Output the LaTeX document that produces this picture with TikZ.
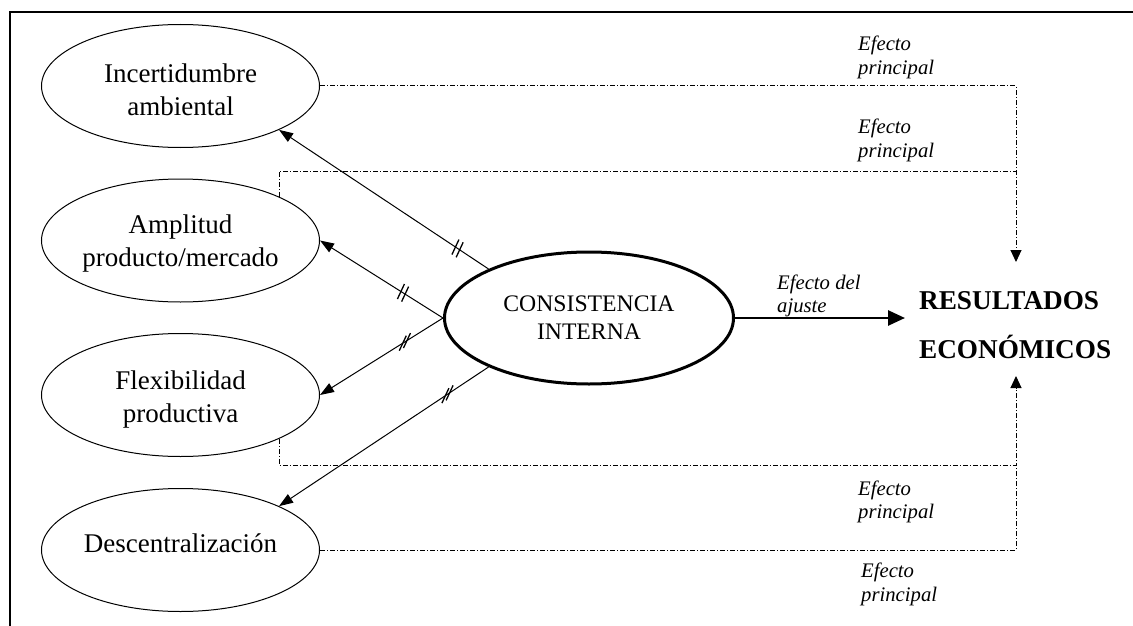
\documentclass[tikz,border=0pt]{standalone}
\usepackage{fontspec}
\setmainfont{Liberation Serif}
\usetikzlibrary{shapes.geometric,arrows.meta}
\begin{document}
\begin{tikzpicture}[x=1pt,y=-1pt,
  var/.style={ellipse,draw,line width=1pt,minimum width=278pt,minimum height=123pt,inner sep=0pt},
  core/.style={ellipse,draw,line width=3pt,minimum width=289pt,minimum height=132pt,inner sep=0pt,
    align=center,font=\fontsize{23.7}{28}\selectfont},
  vtext/.style={align=center,inner sep=0pt,font=\fontsize{27}{33}\selectfont},
  note/.style={align=left,inner sep=0pt,anchor=west,font=\fontsize{20.7}{23.5}\selectfont\itshape},
  result/.style={align=left,anchor=west,inner xsep=14pt,inner ysep=0pt,
    font=\fontsize{27.2}{49}\selectfont\bfseries},
  link/.style={line width=1pt,-{Triangle[length=14pt,width=10pt]}},
  fitarrow/.style={line width=2.7pt,-{Triangle[length=17pt,width=15pt]}},
  main/.style={line width=1pt,dash pattern=on 5pt off 2pt on 1pt off 2pt},
  mainarrow/.style={main,-{Triangle[length=12pt,width=11pt]}},
  tick/.style={line width=1.3pt},
]
\useasboundingbox (0,0) rectangle (1133,626);

% outer frame
\draw[line width=2pt] (1140,12.5) -- (9.5,12.5) -- (9.5,640);

% variables of the configuration
\node[var] (e1) at (180.5,86)  {};
\node[var] (e2) at (180.5,240.5) {};
\node[var] (e3) at (180.5,395) {};
\node[var] (e4) at (180.5,550) {};
\node[vtext] (t1) at (180.5,89.3)  {Incertidumbre\\ambiental};
\node[vtext] (t2) at (180.5,243.2) {Amplitud\\producto/mercado};
\node[vtext] (t3) at (180.5,399.5) {Flexibilidad\\productiva};
\node[vtext] (t4) at (180.5,543)   {Descentralización};

% internal consistency
\node[core] (ci) at (589,318) {CONSISTENCIA\\INTERNA};

% performance
\node[result] (res) at (905,325.6) {RESULTADOS\\ECONÓMICOS};
\coordinate (resTop) at (1016,262);
\coordinate (resBot) at (1016,376);
\coordinate (jTop) at (1016,171);
\coordinate (jBot) at (1016,465);

% fit effect
\draw[fitarrow] (ci.east) -- (ci.east -| res.west);
\node[note] (nfit) at (777,295.7) {Efecto del\\ajuste};

% consistency links with the variables
\draw[link] (ci.154) -- (e1.-24) coordinate[pos=0.138] (k1a) coordinate[pos=0.158] (k1b);
\draw[link] (ci.west) -- (e2.east) coordinate[pos=0.308] (k2a) coordinate[pos=0.342] (k2b);
\draw[link] (ci.west) -- (e3.east) coordinate[pos=0.293] (k3a) coordinate[pos=0.327] (k3b);
\draw[link] (ci.206) -- (e4.24) coordinate[pos=0.186] (k4a) coordinate[pos=0.206] (k4b);
\foreach \k in {k1a,k1b,k2a,k2b,k3a,k3b,k4a,k4b}
  \draw[tick] (\k) +(-3.5,7.5) -- +(3.5,-7.5);

% main effects
\draw[mainarrow] (e1.east) -| (resTop);
\draw[main] (e2.24) |- (jTop);
\draw[mainarrow] (e3.-24) |- (jBot) -- (resBot);
\draw[main] (e4.east) -| (jBot);

\node[note] (n1) at (858,57.2)  {Efecto\\principal};
\node[note] (n2) at (858,140.2) {Efecto\\principal};
\node[note] (n3) at (858,501.9) {Efecto\\principal};
\node[note] (n4) at (861,584.4) {Efecto\\principal};
\end{tikzpicture}
\end{document}
